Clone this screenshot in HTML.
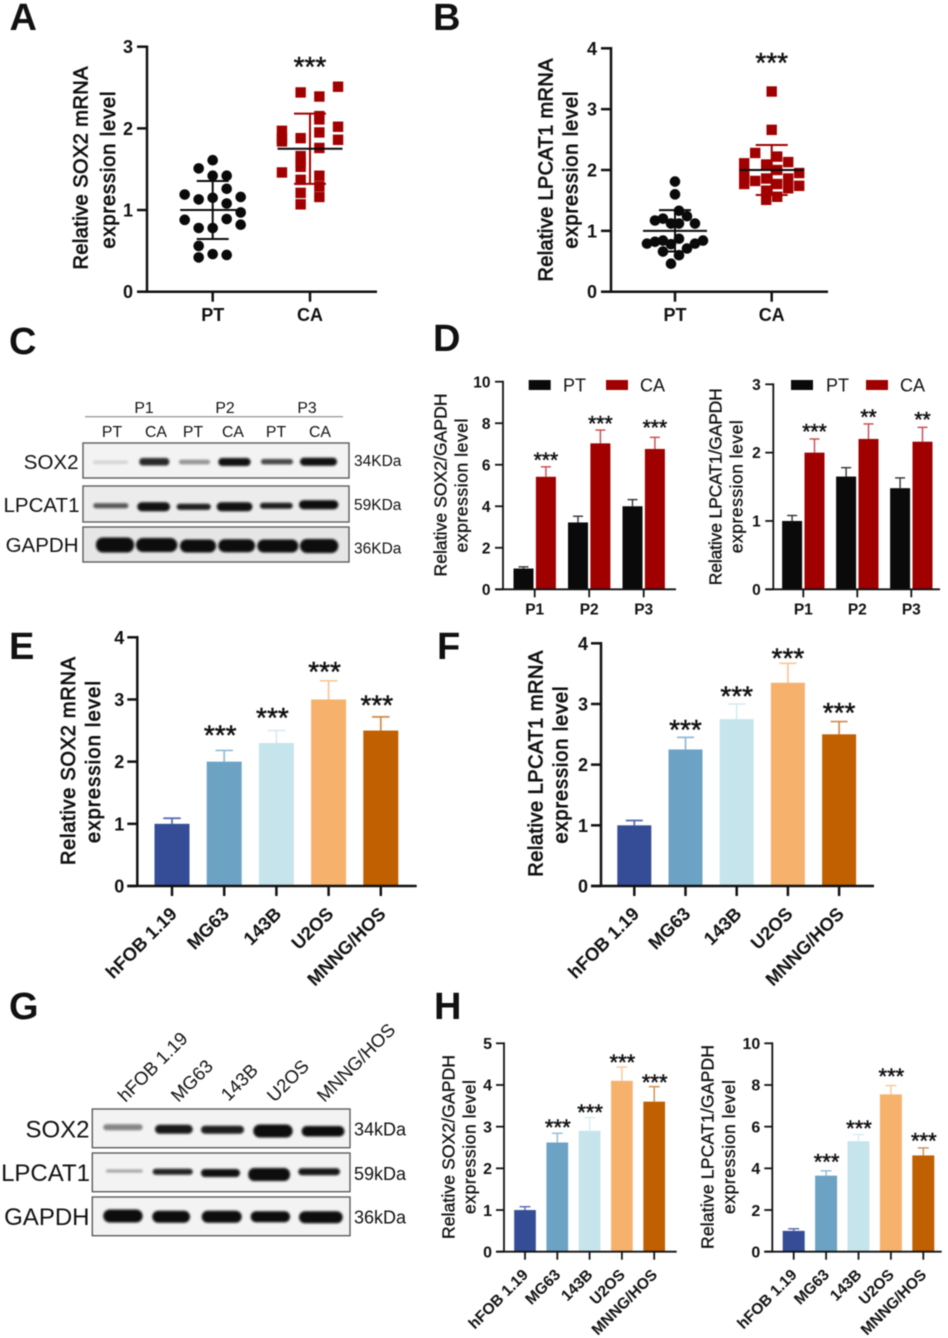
<!DOCTYPE html>
<html lang="en">
<head>
<meta charset="utf-8">
<title>SOX2 and LPCAT1 expression figure</title>
<style>
html,body{margin:0;padding:0;background:#fff;}
#figure{display:block;width:948px;height:1338px;filter:blur(0.5px);}
text{font-family:"Liberation Sans",Arial,sans-serif;fill:#111;}
.letter{font-size:38px;font-weight:bold;}
.bl{font-size:20.5px;}
.bk{font-size:15.5px;}
.bt{font-size:15.8px;}
.gl{font-size:24px;}
.gk{font-size:18px;}
.gc{font-size:18.5px;}
.box{fill:#f3f3f3;stroke:#5c5c5c;stroke-width:1.4;}
.band{fill:#070707;filter:url(#bandblur);}
</style>
</head>
<body>
<svg id="figure" xmlns="http://www.w3.org/2000/svg" width="948" height="1338" viewBox="0 0 948 1338">
<defs><filter id="bandblur" x="-20%" y="-100%" width="140%" height="300%"><feGaussianBlur stdDeviation="1.1"/></filter></defs>
<rect width="948" height="1338" fill="#fff"/>

<text class="letter" x="9.5" y="30">A</text>
<text class="letter" x="433" y="30">B</text>
<text class="letter" x="9" y="354">C</text>
<text class="letter" x="433" y="351">D</text>
<text class="letter" x="9" y="659">E</text>
<text class="letter" x="437" y="659">F</text>
<text class="letter" x="9" y="1019">G</text>
<text class="letter" x="434" y="1019">H</text>

<g>
<line x1="85" y1="416.7" x2="343" y2="416.7" stroke="#8a8a8a" stroke-width="1.2"/>
<text class="bt" x="144" y="413" text-anchor="middle">P1</text>
<text class="bt" x="225" y="413" text-anchor="middle">P2</text>
<text class="bt" x="307" y="413" text-anchor="middle">P3</text>
<text class="bt" x="112" y="437" text-anchor="middle">PT</text>
<text class="bt" x="156" y="437" text-anchor="middle">CA</text>
<text class="bt" x="193" y="437" text-anchor="middle">PT</text>
<text class="bt" x="233" y="437" text-anchor="middle">CA</text>
<text class="bt" x="276" y="437" text-anchor="middle">PT</text>
<text class="bt" x="320" y="437" text-anchor="middle">CA</text>

<text class="bl" x="78.5" y="469" text-anchor="end">SOX2</text>
<text class="bl" x="79.5" y="512" text-anchor="end">LPCAT1</text>
<text class="bl" x="78.5" y="552" text-anchor="end">GAPDH</text>
<text class="bk" x="354" y="466">34KDa</text>
<text class="bk" x="354" y="510">59KDa</text>
<text class="bk" x="354" y="553.5">36KDa</text>

<rect class="box" x="83" y="443" width="266" height="35"/>
<rect class="box" x="83" y="486" width="266" height="36" style="fill:#ececec"/>
<rect class="box" x="83" y="527" width="266" height="35" style="fill:#e6e6e6"/>

<g>
<rect class="band" x="93" y="460.8" width="35" height="3" rx="1.5" opacity=".15"/>
<rect class="band" x="139.3" y="458" width="30" height="7.5" rx="3.5" opacity=".88"/>
<rect class="band" x="179" y="459.7" width="31" height="4.6" rx="2.3" opacity=".42"/>
<rect class="band" x="218.3" y="458" width="32.3" height="8" rx="4" opacity=".98"/>
<rect class="band" x="261" y="459" width="32" height="5.4" rx="2.7" opacity=".75"/>
<rect class="band" x="300" y="457.7" width="37" height="8" rx="4" opacity=".98"/>
</g>
<g>
<rect class="band" x="93.3" y="503.2" width="35" height="5" rx="2.5" opacity=".68"/>
<rect class="band" x="137.3" y="502.2" width="32.7" height="9" rx="4.5" opacity=".98"/>
<rect class="band" x="176.7" y="503.7" width="34" height="6.2" rx="3" opacity=".92"/>
<rect class="band" x="216.7" y="502.2" width="35.7" height="9" rx="4.5" opacity=".98"/>
<rect class="band" x="260" y="502.7" width="32.7" height="6" rx="3" opacity=".92"/>
<rect class="band" x="299" y="500.2" width="39.3" height="9" rx="4.5" opacity="1"/>
</g>
<g>
<rect class="band" x="96" y="537.5" width="38" height="15" rx="7"/>
<rect class="band" x="136" y="538" width="41.3" height="14" rx="7"/>
<rect class="band" x="180" y="539.5" width="36" height="13" rx="6.5"/>
<rect class="band" x="218.3" y="539.2" width="36.7" height="13" rx="6.5"/>
<rect class="band" x="257.3" y="539.5" width="41" height="13" rx="6.5"/>
<rect class="band" x="300" y="539" width="38.3" height="14" rx="7"/>
</g>
</g>

<g>
<text class="gc" transform="translate(125.5 1103) rotate(-45)">hFOB 1.19</text>
<text class="gc" transform="translate(178.5 1103) rotate(-45)">MG63</text>
<text class="gc" transform="translate(228.5 1102) rotate(-45)">143B</text>
<text class="gc" transform="translate(274.5 1103) rotate(-45)">U2OS</text>
<text class="gc" transform="translate(324.5 1103) rotate(-45)">MNNG/HOS</text>

<text class="gl" x="89.5" y="1137.5" text-anchor="end">SOX2</text>
<text class="gl" x="90" y="1181" text-anchor="end">LPCAT1</text>
<text class="gl" x="89.5" y="1225" text-anchor="end">GAPDH</text>
<text class="gk" x="354" y="1135.5">34kDa</text>
<text class="gk" x="354" y="1180">59kDa</text>
<text class="gk" x="354" y="1223.5">36kDa</text>

<rect class="box" x="92.3" y="1109" width="257.7" height="38.7"/>
<rect class="box" x="92.3" y="1153" width="257.7" height="38.7"/>
<rect class="box" x="92.3" y="1197" width="257.7" height="38.7"/>

<g>
<rect class="band" x="103.3" y="1124.3" width="39.3" height="6" rx="3" opacity=".48"/>
<rect class="band" x="155" y="1124.8" width="37.7" height="9" rx="4.5" opacity=".95"/>
<rect class="band" x="201" y="1125.7" width="43" height="8" rx="4" opacity=".92"/>
<rect class="band" x="253.3" y="1124.5" width="39.3" height="13" rx="6.5" opacity="1"/>
<rect class="band" x="301.7" y="1126" width="42.7" height="10.5" rx="5" opacity="1"/>
</g>
<g>
<rect class="band" x="106" y="1169.5" width="36.7" height="3" rx="1.5" opacity=".35"/>
<rect class="band" x="152.7" y="1168.7" width="40" height="6" rx="3" opacity=".9"/>
<rect class="band" x="201" y="1169" width="39" height="8" rx="4" opacity=".98"/>
<rect class="band" x="248.3" y="1168" width="41.7" height="13" rx="6" opacity="1"/>
<rect class="band" x="298.3" y="1168.2" width="41.7" height="7" rx="3.5" opacity=".95"/>
</g>
<g>
<rect class="band" x="103.3" y="1209.5" width="39.3" height="13" rx="6.5"/>
<rect class="band" x="152.3" y="1210.7" width="37.7" height="12" rx="6"/>
<rect class="band" x="201.7" y="1210.7" width="40" height="12" rx="6"/>
<rect class="band" x="250.7" y="1211.2" width="39.3" height="11" rx="5.5"/>
<rect class="band" x="299" y="1211.3" width="43.7" height="12" rx="6"/>
</g>
</g>

<g id="charts"></g>
</svg>

<script>
// ---------- shared categories and colours ----------
const groupCats = ['PT', 'CA'];
const patientCats = ['P1', 'P2', 'P3'];
const cellCats = ['hFOB 1.19', 'MG63', '143B', 'U2OS', 'MNNG/HOS'];
const cellColors = ['#354d97', '#6ca3c5', '#c6e4ec', '#f6b26d', '#c06000'];
const cellErrColors = ['#5468b0', '#8fbbd6', '#d6ecf2', '#f9c795', '#d08a4a'];

// ---------- panel A ----------
const aTicks = [0, 1, 2, 3];
const aPtValues = [1.61,1.51,1.42,1.42,1.26,1.19,1.13,1.15,1.16,1.08,0.97,0.89,0.88,0.82,0.78,0.78,0.56,0.46,0.45,0.42];
const aPtSlots = [0,-1,0,1,1,-2,-1,0,2,1,2,1,-2,2,-1,0,-1,0,1,-1];
const aCaValues = [2.51,2.44,2.39,2.15,2.11,2.02,1.97,1.95,1.88,1.88,1.84,1.86,1.76,1.66,1.59,1.53,1.46,1.42,1.37,1.29,1.21,1.16,1.07];
const aCaSlots = [1.5,-0.5,0.5,0.5,0.5,1.5,-1.5,0.5,-1.5,-0.5,-1.5,1.5,0.5,-0.5,-0.5,-0.5,-1.5,0.5,-0.5,0.5,-0.5,0.5,-0.5];
const aMeans = [1.0, 1.75];
const aSds = [0.355, 0.43];

// ---------- panel B ----------
const bTicks = [0, 1, 2, 3, 4];
const bPtValues = [1.81,1.60,1.33,1.17,1.20,1.24,1.12,1.12,1.12,0.79,0.82,0.84,0.87,0.84,0.79,0.66,0.71,0.60,0.46,0.78];
const bPtSlots = [0,0,0.5,-2.5,-1.5,1.5,2.5,-0.5,0.5,-3.5,-2.5,-1.5,0.5,3.5,2.5,-1.5,1.5,0.5,-0.5,-0.5];
const bCaValues = [3.29,2.66,2.28,2.22,2.13,2.11,2.09,2.00,1.95,1.95,1.86,1.86,1.86,1.82,1.77,1.77,1.74,1.70,1.66,1.56,1.51];
const bCaSlots = [0,0,-1.5,0.5,1.5,-2.5,-0.5,0.5,2.5,-2.5,1.5,-0.5,-2.5,-1.5,-2.5,0.5,2.5,1.5,-0.5,0.5,-0.5];
const bMeans = [1.0, 2.0];
const bSds = [0.34, 0.41];

// ---------- panel D left ----------
const d1Ticks = [0, 2, 4, 6, 8, 10];
const d1Pt = [1.0, 3.22, 4.0];
const d1PtTop = [1.08, 3.52, 4.32];
const d1Ca = [5.42, 7.03, 6.76];
const d1CaTop = [5.9, 7.67, 7.32];
const d1Stars = ['***', '***', '***'];
const d1StarLevels = [6.39, 8.15, 7.95];

// ---------- panel D right ----------
const d2Ticks = [0, 1, 2, 3];
const d2Pt = [1.0, 1.65, 1.48];
const d2PtTop = [1.08, 1.78, 1.63];
const d2Ca = [2.0, 2.2, 2.16];
const d2CaTop = [2.2, 2.42, 2.37];
const d2Stars = ['***', '**', '**'];
const d2StarLevels = [2.36, 2.57, 2.53];

// ---------- panel E ----------
const eTicks = [0, 1, 2, 3, 4];
const eValues = [1.0, 2.0, 2.3, 3.0, 2.5];
const eTops = [1.09, 2.18, 2.5, 3.3, 2.72];
const eStars = ['', '***', '***', '***', '***'];
const eStarLevels = [0, 2.5, 2.78, 3.52, 2.98];

// ---------- panel F ----------
const fTicks = [0, 1, 2, 3, 4];
const fValues = [1.0, 2.25, 2.75, 3.35, 2.5];
const fTops = [1.08, 2.45, 3.0, 3.67, 2.71];
const fStars = ['', '***', '***', '***', '***'];
const fStarLevels = [0, 2.65, 3.2, 3.83, 2.93];

// ---------- panel H left ----------
const h1Ticks = [0, 1, 2, 3, 4, 5];
const h1Values = [1.0, 2.62, 2.9, 4.1, 3.6];
const h1Tops = [1.08, 2.84, 3.22, 4.43, 3.96];
const h1Stars = ['', '***', '***', '***', '***'];
const h1StarLevels = [0, 3.06, 3.42, 4.62, 4.14];

// ---------- panel H right ----------
const h2Ticks = [0, 2, 4, 6, 8, 10];
const h2Values = [1.0, 3.65, 5.3, 7.55, 4.62];
const h2Tops = [1.1, 3.88, 5.62, 7.97, 4.98];
const h2Stars = ['', '***', '***', '***', '***'];
const h2StarLevels = [0, 4.45, 6.08, 8.56, 5.47];

const NS = 'http://www.w3.org/2000/svg';
const root = document.getElementById('charts');

function make(tag, parent, attrs, content) {
  const el = document.createElementNS(NS, tag);
  for (const k in attrs) el.setAttribute(k, attrs[k]);
  if (content !== undefined) el.textContent = content;
  parent.appendChild(el);
  return el;
}
function yPos(p, v) { return p.y0 - (v / p.max) * (p.y0 - p.yTop); }
function xPos(p, i) { return p.x0 + i * p.step; }

function drawAxes(g, p, ticks, cats) {
  let el = make('line', g, {x1: p.axisX, y1: p.yTop - p.sw / 2, x2: p.axisX, y2: p.y0, stroke: '#111', 'stroke-width': p.sw});
  
  
  el = make('line', g, {x1: p.axisX - p.tick, y1: p.y0, x2: p.right, y2: p.y0, stroke: '#111', 'stroke-width': p.sw});
  
  
  ticks.forEach(function (t) {
    const y = yPos(p, t);
    let m = make('line', g, {x1: p.axisX - p.tick, y1: y, x2: p.axisX, y2: y, stroke: '#111', 'stroke-width': p.sw});
    
    
    m = make('text', g, {x: p.axisX - p.labelGap, y: y + p.tickFont * 0.36, 'text-anchor': 'end', 'font-size': p.tickFont, 'font-weight': 'bold'}, t);
    
    
  });
  cats.forEach(function (c, i) {
    const x = xPos(p, i);
    let m = make('line', g, {x1: x, y1: p.y0, x2: x, y2: p.y0 + p.tick, stroke: '#111', 'stroke-width': p.sw});
    
    
    if (p.rotate) {
      m = make('text', g, {transform: 'translate(' + (x + p.rotDx) + ' ' + (p.y0 + p.rotDy) + ') rotate(-45)', 'text-anchor': 'end', 'font-size': p.catFont, 'font-weight': 'bold'}, c);
    } else {
      m = make('text', g, {x: x, y: p.y0 + p.catDy, 'text-anchor': 'middle', 'font-size': p.catFont, 'font-weight': 'bold'}, c);
    }
    
    
  });
}

function drawTitle(g, lines, size, heavy) {
  lines.forEach(function (l) {
    const bx = l.x + size * 0.34;
    const m = make('text', g, {transform: 'rotate(-90 ' + bx + ' ' + l.cy + ')', x: bx, y: l.cy, 'text-anchor': 'middle', 'font-size': size, textLength: l.len, stroke: '#111', 'stroke-width': heavy ? 0.75 : 0.35}, l.text);
    
    
  });
}

function drawStar(g, text, x, cy, size) {
  if (!text) return;
  const m = make('text', g, {x: x, y: cy + size * 0.49, 'text-anchor': 'middle', 'font-size': size, stroke: '#111', 'stroke-width': 0.5}, text);
  
  
}

function drawBar(g, p, cx, w, value, top, fill, errFill, name) {
  const yV = yPos(p, value);
  const yT = yPos(p, top);
  let m = make('line', g, {x1: cx, y1: yV, x2: cx, y2: yT, stroke: errFill, 'stroke-width': p.errW});
  
  
  m = make('line', g, {x1: cx - w / 4, y1: yT, x2: cx + w / 4, y2: yT, stroke: errFill, 'stroke-width': p.errW});
  
  
  m = make('rect', g, {x: cx - w / 2, y: yV, width: w, height: p.y0 - yV, fill: fill});
  
  
}

function drawCellPanel(name, p, ticks, values, tops, stars, levels, title, titleSize, heavy) {
  const g = make('g', root, {});
  
  
  drawTitle(g, title, titleSize, heavy);
  values.forEach(function (v, i) {
    drawBar(g, p, xPos(p, i), p.barW, v, tops[i], cellColors[i], cellErrColors[i], 'bar-' + cellCats[i].toLowerCase().replace(/[^a-z0-9]+/g, '-'));
    drawStar(g, stars[i], xPos(p, i) + p.starDx, yPos(p, levels[i]), p.starSize);
  });
  drawAxes(g, p, ticks, cellCats);
}

function drawGroupedPanel(name, p, ticks, pt, ptTop, ca, caTop, stars, levels, title, titleSize, legend) {
  const g = make('g', root, {});
  
  
  drawTitle(g, title, titleSize, false);
  pt.forEach(function (v, i) {
    const x = xPos(p, i);
    drawBar(g, p, x - p.off, p.barW, v, ptTop[i], '#0a0a0a', '#333', 'bar-pt-' + patientCats[i].toLowerCase());
    drawBar(g, p, x + p.off, p.barW, ca[i], caTop[i], '#a00000', '#c9474c', 'bar-ca-' + patientCats[i].toLowerCase());
    drawStar(g, stars[i], x + p.off + p.starDx, yPos(p, levels[i]), p.starSize);
  });
  drawAxes(g, p, ticks, patientCats);
  groupCats.forEach(function (c, i) {
    let m = make('rect', g, {x: legend.swatchX[i], y: 380, width: 22, height: 10, fill: i ? '#a00000' : '#0a0a0a'});
    
    
    m = make('text', g, {x: legend.textX[i], y: 391.5, 'font-size': 18}, c);
    
    
  });
}

function drawScatterPanel(name, p, ticks, ptValues, ptSlots, caValues, caSlots, means, sds, title, titleSize, starLevel) {
  const g = make('g', root, {});
  
  
  drawTitle(g, title, titleSize, true);
  ptValues.forEach(function (v, i) {
    const m = make('circle', g, {cx: xPos(p, 0) + ptSlots[i] * p.ptSpace, cy: yPos(p, v), r: 5.3, fill: '#0a0a0a'});
    
    
  });
  caValues.forEach(function (v, i) {
    const m = make('rect', g, {x: xPos(p, 1) + caSlots[i] * p.caSpace - 5.2, y: yPos(p, v) - 5.2, width: 10.4, height: 10.4, fill: '#a00000'});
    
    
  });
  means.forEach(function (mean, i) {
    const x = xPos(p, i);
    const col = i ? '#a00000' : '#0a0a0a';
    const hi = yPos(p, mean + sds[i]);
    const lo = yPos(p, mean - sds[i]);
    let m = make('line', g, {x1: x, y1: hi, x2: x, y2: lo, stroke: col, 'stroke-width': 2});
    
    
    m = make('line', g, {x1: x - p.capHalf, y1: hi, x2: x + p.capHalf, y2: hi, stroke: col, 'stroke-width': 2});
    
    
    m = make('line', g, {x1: x - p.capHalf, y1: lo, x2: x + p.capHalf, y2: lo, stroke: col, 'stroke-width': 2});
    
    
    m = make('line', g, {x1: x - p.meanHalf, y1: yPos(p, mean), x2: x + p.meanHalf, y2: yPos(p, mean), stroke: '#0a0a0a', 'stroke-width': 2});
    
    
  });
  drawAxes(g, p, ticks, groupCats);
  drawStar(g, '***', xPos(p, 1), yPos(p, starLevel), 28);
}

const scatterStyle = {sw: 2.5, tick: 10, labelGap: 14, tickFont: 18, catFont: 18, catDy: 29.5};
drawScatterPanel('panel-a-sox2-mrna-scatter',
  Object.assign({}, scatterStyle, {axisX: 147, y0: 291.7, yTop: 46.7, max: 3, right: 377, x0: 212.7, step: 97.3, ptSpace: 14, caSpace: 18.7, capHalf: 16, meanHalf: 32.5}),
  aTicks, aPtValues, aPtSlots, aCaValues, aCaSlots, aMeans, aSds,
  [{text: 'Relative SOX2 mRNA', x: 80.7, cy: 168, len: 203}, {text: 'expression level', x: 108, cy: 170, len: 157}], 20, 2.81);
drawScatterPanel('panel-b-lpcat1-mrna-scatter',
  Object.assign({}, scatterStyle, {axisX: 611, y0: 291.7, yTop: 48.3, max: 4, right: 828, x0: 675, step: 96.7, ptSpace: 8, caSpace: 11, capHalf: 16, meanHalf: 32}),
  bTicks, bPtValues, bPtSlots, bCaValues, bCaSlots, bMeans, bSds,
  [{text: 'Relative LPCAT1 mRNA', x: 545.7, cy: 170, len: 223}, {text: 'expression level', x: 570.7, cy: 170, len: 157}], 20, 3.84);

const groupedStyle = {sw: 1.8, tick: 8, labelGap: 12.5, tickFont: 15.5, catFont: 15.5, catDy: 25, errW: 1.4, barW: 20, off: 11.2, starSize: 21, y0: 589.3};
drawGroupedPanel('panel-d-sox2-protein-bars',
  Object.assign({}, groupedStyle, {axisX: 503, yTop: 381.7, max: 10, right: 676, x0: 534.7, step: 54.5, starDx: 0}),
  d1Ticks, d1Pt, d1PtTop, d1Ca, d1CaTop, d1Stars, d1StarLevels,
  [{text: 'Relative SOX2/GAPDH', x: 440.7, cy: 485, len: 183}, {text: 'expression level', x: 461.7, cy: 485.5, len: 134}], 17.5,
  {swatchX: [528.7, 606], textX: [563, 640]});
drawGroupedPanel('panel-d-lpcat1-protein-bars',
  Object.assign({}, groupedStyle, {axisX: 773.3, yTop: 384.3, max: 3, right: 940, x0: 803.3, step: 54, starDx: 0}),
  d2Ticks, d2Pt, d2PtTop, d2Ca, d2CaTop, d2Stars, d2StarLevels,
  [{text: 'Relative LPCAT1/GAPDH', x: 715.7, cy: 486.7, len: 197}, {text: 'expression level', x: 736.7, cy: 486.7, len: 133}], 17.5,
  {swatchX: [791, 866], textX: [826, 900]});

const cellBig = {sw: 2.5, tick: 10, labelGap: 13, tickFont: 18, catFont: 18.5, rotate: true, rotDx: 6, rotDy: 29, errW: 1.7, starSize: 28, y0: 886};
drawCellPanel('panel-e-sox2-cell-line-bars',
  Object.assign({}, cellBig, {axisX: 137.3, yTop: 637.3, max: 4, right: 416.7, x0: 172, step: 52.2, barW: 35, starDx: -4}),
  eTicks, eValues, eTops, eStars, eStarLevels,
  [{text: 'Relative SOX2 mRNA', x: 68.3, cy: 761, len: 208}, {text: 'expression level', x: 93.3, cy: 762, len: 162}], 20, true);
drawCellPanel('panel-f-lpcat1-cell-line-bars',
  Object.assign({}, cellBig, {axisX: 601, yTop: 643.3, max: 4, right: 874, x0: 634.3, step: 51.2, barW: 34, starDx: 0}),
  fTicks, fValues, fTops, fStars, fStarLevels,
  [{text: 'Relative LPCAT1 mRNA', x: 535.7, cy: 763.7, len: 226}, {text: 'expression level', x: 560.7, cy: 765, len: 157}], 20, true);

const cellSmall = {sw: 1.8, tick: 8, labelGap: 12, tickFont: 16, catFont: 15.5, rotate: true, rotDx: 4, rotDy: 24, errW: 1.4, starSize: 22, y0: 1251.7};
drawCellPanel('panel-h-sox2-protein-bars',
  Object.assign({}, cellSmall, {axisX: 504, yTop: 1043.3, max: 5, right: 676.7, x0: 525, step: 32.3, barW: 21.7, starDx: 0.5}),
  h1Ticks, h1Values, h1Tops, h1Stars, h1StarLevels,
  [{text: 'Relative SOX2/GAPDH', x: 448.3, cy: 1147, len: 184}, {text: 'expression level', x: 469.3, cy: 1147, len: 134}], 17.5, false);
drawCellPanel('panel-h-lpcat1-protein-bars',
  Object.assign({}, cellSmall, {axisX: 772.3, yTop: 1043.3, max: 10, right: 941.7, x0: 793.7, step: 32.4, barW: 22, starDx: 0.5}),
  h2Ticks, h2Values, h2Tops, h2Stars, h2StarLevels,
  [{text: 'Relative LPCAT1/GAPDH', x: 707.3, cy: 1147, len: 204}, {text: 'expression level', x: 729, cy: 1147, len: 134}], 17.5, false);
</script>
</body>
</html>
